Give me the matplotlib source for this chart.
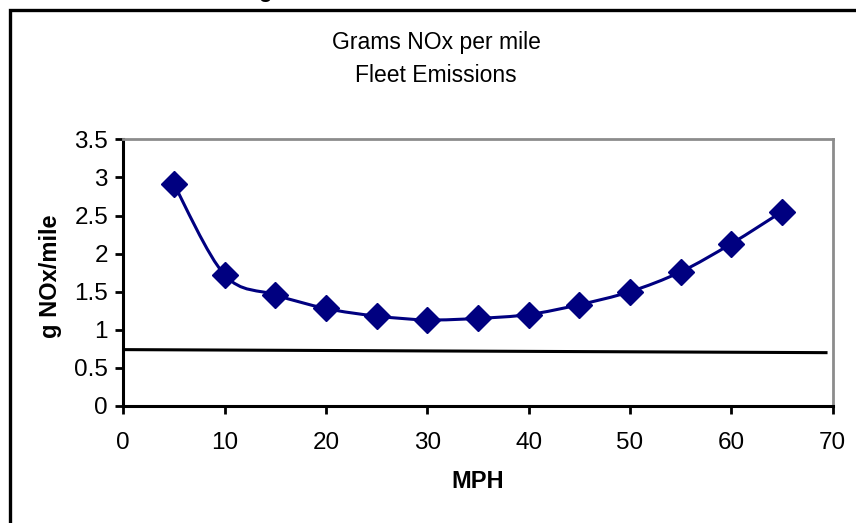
import matplotlib
matplotlib.use("Agg")
import matplotlib.pyplot as plt
from matplotlib.path import Path
from matplotlib.patches import PathPatch
from matplotlib.lines import Line2D
import numpy as np

plt.rcParams['font.family'] = ['Liberation Sans', 'DejaVu Sans']

# fleet NOx emission rate vs speed
mph = [5, 10, 15, 20, 25, 30, 35, 40, 45, 50, 55, 60, 65]
g_nox = [2.91, 1.72, 1.46, 1.28, 1.18, 1.13, 1.15, 1.20, 1.33, 1.50, 1.76, 2.13, 2.55]

# reference level line
ref_x = [0, 69.5]
ref_y = [0.74, 0.70]

x_ticks = [0, 10, 20, 30, 40, 50, 60, 70]
y_ticks = [0, 0.5, 1, 1.5, 2, 2.5, 3, 3.5]

W, H = 856, 523
fig = plt.figure(figsize=(W / 100, H / 100), dpi=100)

# outer chart frame
fig.add_artist(Line2D([10 / W, 10 / W, 1], [0, 1 - 10 / H, 1 - 10 / H],
                      color='black', lw=2.4, solid_joinstyle='miter'))
# cut-off heading above the frame
fig.text(258 / W, 1 + 3.5 / H, 'g', fontsize=16, fontweight='bold',
         ha='left', va='baseline')

ax = fig.add_axes([123.3 / W, 1 - 406 / H, 709.3 / W, (406 - 139.3) / H])
ax.set_xlim(0, 70)
ax.set_ylim(0, 3.5)

# smoothed curve through the points (cubic bezier, catmull-rom tangents)
pts = np.column_stack([mph, g_nox])
verts = [pts[0]]
codes = [Path.MOVETO]
n = len(pts)
for i in range(n - 1):
    p0 = pts[max(i - 1, 0)]
    p1 = pts[i]
    p2 = pts[i + 1]
    p3 = pts[min(i + 2, n - 1)]
    c1 = p1 + (p2 - p0) / 6.0
    c2 = p2 - (p3 - p1) / 6.0
    verts += [c1, c2, p2]
    codes += [Path.CURVE4] * 3
ax.add_patch(PathPatch(Path(verts, codes), fill=False, edgecolor='#000080',
                       lw=2.2, zorder=3))
ax.plot(mph, g_nox, linestyle='none', marker='D', markersize=13,
        color='#000080', mec='#000080', mew=1, zorder=4)

ax.plot(ref_x, ref_y, color='black', lw=2.2, zorder=2, solid_capstyle='butt')

ax.set_xticks(x_ticks)
ax.set_yticks(y_ticks)
ax.set_yticklabels(['{:g}'.format(v) for v in y_ticks])
ax.tick_params(axis='both', direction='out', length=6, width=2, labelsize=17.5,
               color='black')
ax.tick_params(axis='y', pad=5)
ax.tick_params(axis='x', pad=13)

for side in ['left', 'bottom']:
    ax.spines[side].set_color('black')
    ax.spines[side].set_linewidth(2.2)
for side in ['top', 'right']:
    ax.spines[side].set_color('#8c8c8c')
    ax.spines[side].set_linewidth(2.0)

fig.text(436 / W, 1 - 49 / H, 'Grams NOx per mile', fontsize=16.5,
         ha='center', va='baseline')
fig.text(436 / W, 1 - 82 / H, 'Fleet Emissions', fontsize=16.5,
         ha='center', va='baseline')
fig.text(478 / W, 1 - 481 / H, 'MPH', fontsize=17, fontweight='bold',
         ha='center', va='center')
fig.text(51 / W, 1 - 276 / H, 'g NOx/mile', fontsize=17, fontweight='bold',
         rotation=90, ha='center', va='center')

fig.savefig('out.png', dpi=100)
